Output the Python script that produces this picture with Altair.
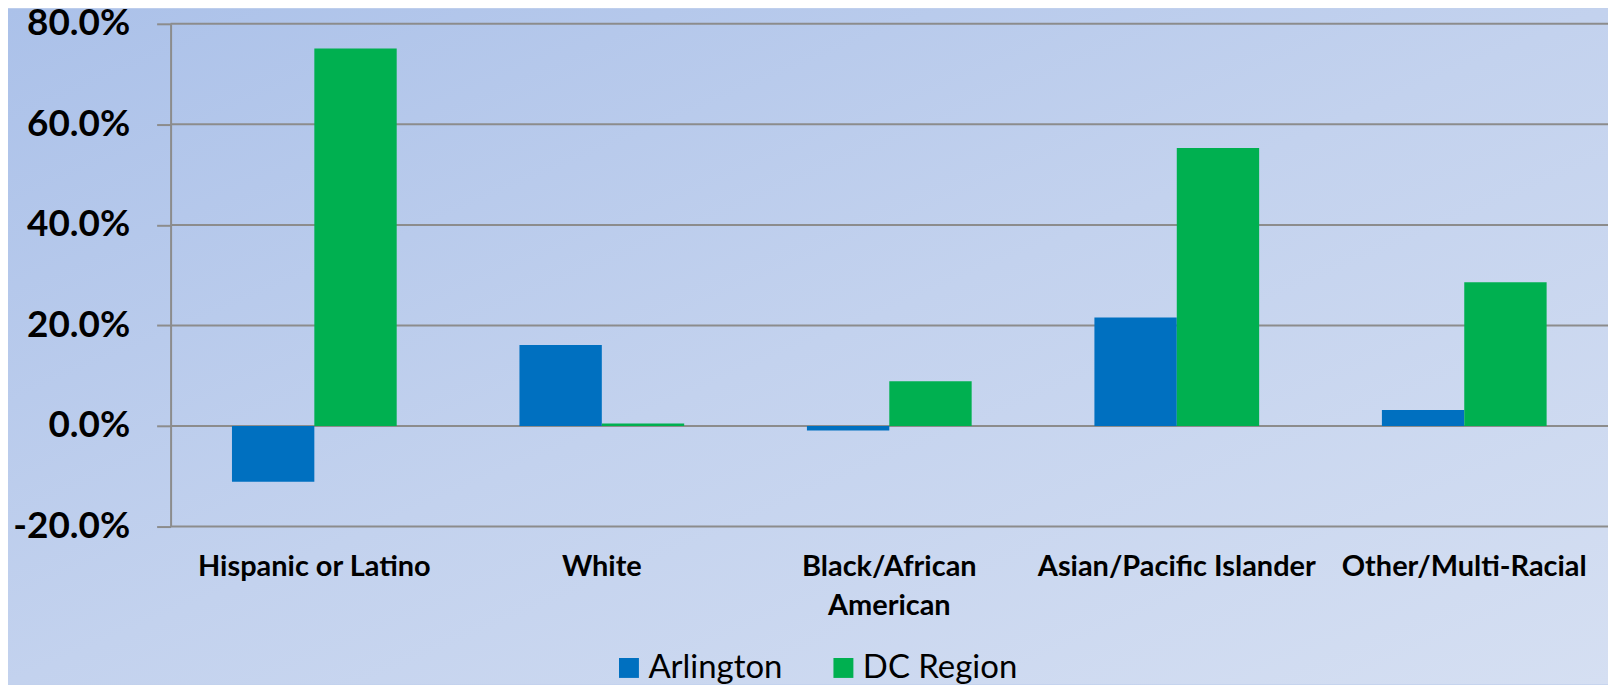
import altair as alt
import pandas as pd

categories = ["Hispanic or Latino", "White", "Black/African\nAmerican",
              "Asian/Pacific Islander", "Other/Multi-Racial"]
series = ["Arlington", "DC Region"]
arlington = [-11.1, 16.1, -0.9, 21.6, 3.2]
dc_region = [75.1, 0.5, 8.9, 55.3, 28.6]
y_ticks = [-20, 0, 20, 40, 60, 80]
colors = ["#0070C0", "#00B050"]

rows = []
for c, a, d in zip(categories, arlington, dc_region):
    rows.append({"category": c, "series": series[0], "value": a})
    rows.append({"category": c, "series": series[1], "value": d})
df = pd.DataFrame(rows)
grid_df = pd.DataFrame({"tick": y_ticks})

W, H = 1441, 504
PAD_L, PAD_T = 163, 15
TOTAL_H = 677
PAD_B = TOTAL_H - PAD_T - H
GRID = "#8C8C8C"

yscale = alt.Scale(domain=[-20, 80], nice=False, zero=False)
yaxis = alt.Axis(
    title=None, values=y_ticks,
    labelExpr="(datum.value < 0 ? '-' : '') + format(abs(datum.value), '.1f') + '%'",
    grid=False, domain=True, domainColor=GRID, domainWidth=2,
    ticks=True, tickColor=GRID, tickWidth=2, tickSize=14,
    labelFont="Lato", labelFontWeight="bold", labelFontSize=37, labelColor="black",
    labelPadding=27, zindex=1,
)
xaxis = alt.Axis(
    title=None, domain=False, ticks=False, labelAngle=0,
    labelFont="Lato", labelFontWeight="bold", labelFontSize=29, labelColor="black",
    labelPadding=26, labelLineHeight=39, labelLimit=400,
    labelExpr="split(datum.label, '\\n')", zindex=1,
)

gradient = alt.LinearGradient(
    gradient="linear", x1=0, y1=0, x2=1, y2=1,
    stops=[alt.GradientStop(color="#ABC1E9", offset=0),
           alt.GradientStop(color="#C3D2EE", offset=0.5),
           alt.GradientStop(color="#D5DFF2", offset=1)],
)
bg = alt.Chart(alt.Data(values=[{"k": 1}])).mark_rect(fill=gradient).encode(
    x=alt.value(-PAD_L), x2=alt.value(W), y=alt.value(-PAD_T), y2=alt.value(H + PAD_B)
)

grid = alt.Chart(grid_df).mark_rule(color=GRID, strokeWidth=2).encode(
    y=alt.Y("tick:Q", scale=yscale, axis=yaxis)
)

bars = alt.Chart(df).mark_bar().encode(
    x=alt.X("category:N", sort=categories,
            scale=alt.Scale(paddingInner=0.427, paddingOuter=0.2135), axis=xaxis),
    xOffset=alt.XOffset("series:N", sort=series,
                        scale=alt.Scale(paddingInner=0, paddingOuter=0)),
    y=alt.Y("value:Q", scale=yscale, axis=yaxis),
    color=alt.Color(
        "series:N", sort=series,
        scale=alt.Scale(domain=series, range=colors),
        legend=alt.Legend(
            title=None, orient="none", legendX=443, legendY=629, direction="horizontal",
            symbolType="square", symbolSize=400, symbolStrokeWidth=0,
            labelFont="Lato", labelFontSize=33, labelColor="black",
            labelOffset=3, columnPadding=44, labelLimit=300, zindex=1,
        ),
    ),
)

chart = alt.layer(bg, grid, bars).properties(
    width=W, height=H,
    padding={"left": PAD_L, "top": PAD_T, "right": 0, "bottom": PAD_B},
    autosize=alt.AutoSizeParams(type="none"),
    background="#C2D1ED",
).configure_view(stroke=None)

chart.save("out.html", embed_options={"renderer": "svg", "actions": False})
